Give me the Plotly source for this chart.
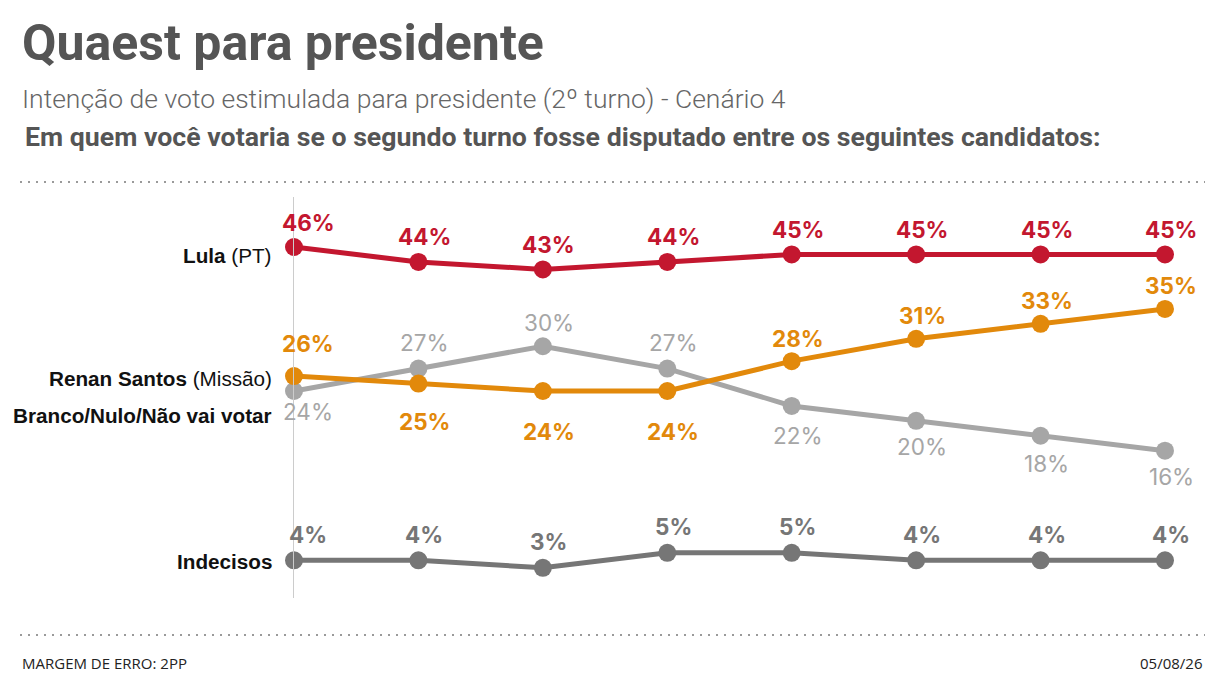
import plotly.graph_objects as go

# ---- data ----
WAVES = [1, 2, 3, 4, 5, 6, 7, 8]
LULA = [46, 44, 43, 44, 45, 45, 45, 45]
RENAN = [26, 25, 24, 24, 28, 31, 33, 35]
BRANCO = [24, 27, 30, 27, 22, 20, 18, 16]
INDECISOS = [4, 4, 3, 5, 5, 4, 4, 4]

# label vertical offsets (px, + = above point)
LULA_DY = [25] * 8
RENAN_DY = [33, -38, -40, -40, 23, 23, 23, 23]
BRANCO_DY = [-20, 26, 24, 26, -30, -26, -28, -26]
INDEC_DY = [26] * 8

RED = "#c3172f"
ORANGE = "#e2890b"
LGRAY = "#a6a6a6"
DGRAY = "#767676"

OFF = 8  # page body margin
W, H = 1225 - 2 * OFF, 694 - 2 * OFF
ML = 294 - OFF
MT = 197 - OFF
PR = 1165 - OFF
PB = 598 - OFF
MR = W - PR
MB = H - PB
PW = W - ML - MR
PH = H - MT - MB


def px(xs):
    return (xs - OFF - ML) / PW


def py(ys):
    return (PB - (ys - OFF)) / PH


fig = go.Figure()

series = [
    (BRANCO, "y", LGRAY),
    (RENAN, "y", ORANGE),
    (INDECISOS, "y2", DGRAY),
    (LULA, "y2", RED),
]
for vals, ax, col in series:
    fig.add_trace(go.Scatter(
        x=WAVES, y=vals, yaxis=ax, mode="lines+markers",
        line=dict(color=col, width=5), marker=dict(size=18, color=col),
        cliponaxis=False, hoverinfo="skip", showlegend=False))

ann = []
LAB = "Inter, Liberation Sans, sans-serif"
label_specs = [
    (LULA, LULA_DY, "y2", RED, True),
    (RENAN, RENAN_DY, "y", ORANGE, True),
    (BRANCO, BRANCO_DY, "y", LGRAY, False),
    (INDECISOS, INDEC_DY, "y2", DGRAY, True),
]
for vals, dys, ax, col, bold in label_specs:
    for i, (xv, v) in enumerate(zip(WAVES, vals)):
        t = f"{v}%"
        if bold:
            t = f"<b>{t}</b>"
        ann.append(dict(x=xv, y=v, xref="x", yref=ax, text=t, showarrow=False,
                        xanchor="center", yanchor="middle",
                        yshift=dys[i], xshift=14 if i == 0 else 6,
                        font=dict(family=LAB, size=22.5, color=col)))

NAMEF = dict(family="Liberation Sans, Arial, sans-serif", size=20.7, color="#111111")
names = [
    ("<b>Lula</b> (PT)", LULA[0], "y2", -8),
    ("<b>Renan Santos</b> (Missão)", RENAN[0], "y", -2),
    ("<b>Branco/Nulo/Não vai votar</b>", BRANCO[0], "y", -24),
    ("<b>Indecisos</b>", INDECISOS[0], "y2", -1),
]
for txt, v, ax, ys in names:
    ann.append(dict(x=WAVES[0], y=v, xref="x", yref=ax, text=txt, showarrow=False,
                    xanchor="right", yanchor="middle", xshift=-20, yshift=ys,
                    font=NAMEF))

FOOT = dict(family="Open Sans", size=15, color="#222222")
ann += [
    dict(x=px(20), y=py(43), xref="paper", yref="paper", xanchor="left", yanchor="middle",
         text="<b>Quaest para presidente</b>", showarrow=False,
         font=dict(family="Roboto", size=50, color="#555555")),
    dict(x=px(20), y=py(99), xref="paper", yref="paper", xanchor="left", yanchor="middle",
         text="Intenção de voto estimulada para presidente (2º turno) - Cenário 4", showarrow=False,
         font=dict(family="Roboto Light, Roboto", size=26.5, color="#666666")),
    dict(x=px(23), y=py(137), xref="paper", yref="paper", xanchor="left", yanchor="middle",
         text="<b>Em quem você votaria se o segundo turno fosse disputado entre os seguintes candidatos:</b>",
         showarrow=False,
         font=dict(family="Roboto", size=26.7, color="#555555")),
    dict(x=px(20), y=py(663), xref="paper", yref="paper", xanchor="left", yanchor="middle",
         text="MARGEM DE ERRO: 2PP", showarrow=False, font=FOOT),
    dict(x=px(1204), y=py(663), xref="paper", yref="paper", xanchor="right", yanchor="middle",
         text="05/08/26", showarrow=False, font=FOOT),
]

shapes = []
for yy in (182, 635):
    shapes.append(dict(type="line", xref="paper", yref="paper",
                       x0=px(20), x1=px(1205), y0=py(yy), y1=py(yy),
                       line=dict(color="#9a9a9a", width=2, dash="2px,6px")))

SLOPE = 7.46
span = PH / SLOPE
top1 = 24 + (391 - 197) / SLOPE
top2 = 46 + (247 - 197) / SLOPE

fig.update_layout(
    width=W, height=H,
    margin=dict(l=ML, r=MR, t=MT, b=MB, pad=0),
    paper_bgcolor="white", plot_bgcolor="white",
    xaxis=dict(range=[WAVES[0], WAVES[-1]], showgrid=False, zeroline=False,
               showticklabels=False, showline=False, ticks=""),
    yaxis=dict(range=[top1 - span, top1], showgrid=False, zeroline=False,
               showticklabels=False, showline=True, linecolor="#cccccc", linewidth=1, ticks=""),
    yaxis2=dict(range=[top2 - span, top2], overlaying="y", showgrid=False, zeroline=False,
                showticklabels=False, showline=False, ticks=""),
    annotations=ann, shapes=shapes, showlegend=False,
)

fig.write_html("out.html")
